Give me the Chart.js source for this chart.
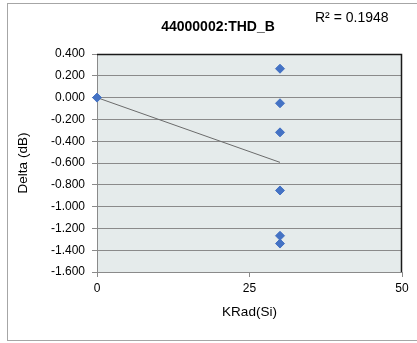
<!DOCTYPE html>
<html>
<head>
<meta charset="utf-8">
<script src="https://cdn.jsdelivr.net/npm/chart.js@4/dist/chart.umd.min.js"></script>
<style>
  html, body { margin: 0; padding: 0; background: #ffffff; }
  #wrap { width: 417px; height: 343px; }
</style>
</head>
<body>
<div id="wrap"><canvas id="c" width="417" height="343"></canvas></div>
<script>
// Measured delta vs. total dose
const chartTitle = '44000002:THD_B';
const rSquaredLabel = 'R\u00B2 = 0.1948';
const dose = [0, 30, 30, 30, 30, 30, 30];
const delta = [0.000, 0.265, -0.052, -0.319, -0.852, -1.268, -1.339];
const xTicks = [0, 25, 50];
const yMin = -1.6, yMax = 0.4, yStep = 0.2;

// Least-squares linear trend over the measured points
function linearFit(xs, ys) {
  const n = xs.length;
  const mx = xs.reduce((a, b) => a + b, 0) / n;
  const my = ys.reduce((a, b) => a + b, 0) / n;
  let sxy = 0, sxx = 0;
  for (let i = 0; i < n; i++) { sxy += (xs[i] - mx) * (ys[i] - my); sxx += (xs[i] - mx) ** 2; }
  const slope = sxy / sxx;
  return { slope, intercept: my - slope * mx };
}
const fit = linearFit(dose, delta);
const xLo = Math.min(...dose), xHi = Math.max(...dose);
const trend = [
  { x: xLo, y: fit.intercept + fit.slope * xLo },
  { x: xHi, y: fit.intercept + fit.slope * xHi }
];
const points = dose.map((x, i) => ({ x, y: delta[i] }));

const FONT = "'Liberation Sans', 'DejaVu Sans', sans-serif";

const decor = {
  id: 'decor',
  beforeDraw(chart) {
    const { ctx, chartArea: a } = chart;
    ctx.save();
    ctx.fillStyle = '#ffffff';
    ctx.fillRect(0, 0, chart.width, chart.height);
    // outer frame
    ctx.strokeStyle = '#a6a6a6';
    ctx.lineWidth = 1;
    ctx.strokeRect(7.5, 3.5, 420, 337);
    // plot background
    ctx.fillStyle = '#e5ebeb';
    ctx.fillRect(a.left, a.top, a.right - a.left, a.bottom - a.top);
    ctx.restore();
  },
  afterDatasetsDraw(chart) {
    const { ctx, chartArea: a } = chart;
    ctx.save();
    // plot border: dark on top and right
    ctx.strokeStyle = '#1a1a1a';
    ctx.lineWidth = 1.5;
    ctx.beginPath();
    ctx.moveTo(a.left, a.top + 0.5);
    ctx.lineTo(a.right - 0.5, a.top + 0.5);
    ctx.lineTo(a.right - 0.5, a.bottom);
    ctx.stroke();
    ctx.restore();
  },
  afterDraw(chart) {
    const { ctx } = chart;
    ctx.save();
    ctx.fillStyle = '#000000';
    ctx.textBaseline = 'alphabetic';
    ctx.textAlign = 'center';
    ctx.font = 'bold 14px ' + FONT;
    ctx.fillText(chartTitle, 218, 31);
    ctx.textAlign = 'left';
    ctx.font = '14px ' + FONT;
    ctx.fillText(rSquaredLabel, 315, 22);
    ctx.restore();
  }
};

new Chart(document.getElementById('c'), {
  type: 'scatter',
  data: {
    datasets: [
      {
        label: 'trend',
        data: trend,
        showLine: true,
        borderColor: '#6b6b6b',
        borderWidth: 1,
        pointRadius: 0,
        order: 2
      },
      {
        label: 'delta',
        data: points,
        pointStyle: 'rectRot',
        pointRadius: 4.5,
        backgroundColor: '#4472c4',
        borderColor: '#4472c4',
        borderWidth: 1,
        clip: false,
        order: 1
      }
    ]
  },
  options: {
    responsive: false,
    animation: false,
    layout: { padding: { top: 54, right: 15, left: 0, bottom: 0 } },
    plugins: { legend: { display: false }, tooltip: { enabled: false } },
    scales: {
      x: {
        type: 'linear',
        min: 0, max: 50,
        afterBuildTicks(scale) { scale.ticks = xTicks.map(v => ({ value: v })); },
        afterFit(scale) { scale.height = 71; },
        grid: { display: true, drawOnChartArea: false, color: '#8a8a8a', tickLength: 5 },
        border: { display: true, color: '#8a8a8a', width: 1 },
        ticks: { color: '#000', font: { family: FONT, size: 12 }, padding: 4, maxRotation: 0 },
        title: { display: true, text: 'KRad(Si)', color: '#000', font: { family: FONT, size: 13.5 }, padding: { top: 0, bottom: 23 } }
      },
      y: {
        type: 'linear',
        min: yMin, max: yMax,
        afterFit(scale) { scale.width = 97; },
        grid: { color: '#8a8a8a', tickLength: 5 },
        border: { display: true, color: '#8a8a8a', width: 1 },
        ticks: {
          stepSize: yStep,
          color: '#000',
          font: { family: FONT, size: 12 },
          padding: 7,
          callback(v) { const n = Math.abs(v) < 1e-9 ? 0 : v; return n.toFixed(3); }
        },
        title: { display: true, text: 'Delta (dB)', color: '#000', font: { family: FONT, size: 13.5 }, padding: { top: 15, bottom: 0 } }
      }
    }
  },
  plugins: [decor]
});
</script>
</body>
</html>
